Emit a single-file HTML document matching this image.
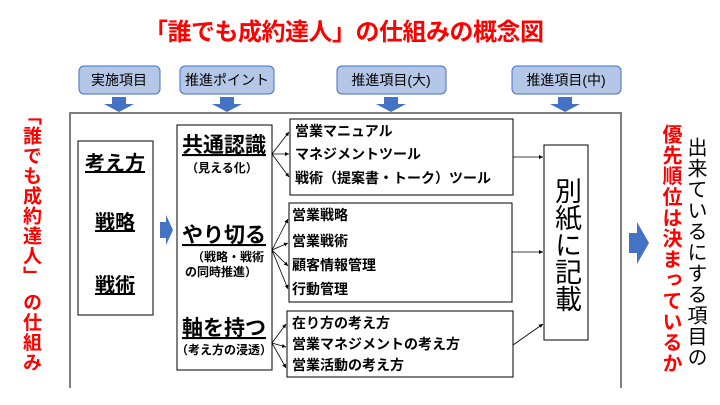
<!DOCTYPE html>
<html><head><meta charset="utf-8"><style>
body{margin:0;background:#fff;}
svg text{font-family:"Liberation Sans","Noto Sans CJK JP",sans-serif;}
.v{writing-mode:vertical-rl;position:absolute;font-family:"Liberation Sans","Noto Sans CJK JP",sans-serif;white-space:nowrap;}
</style></head><body>
<div style="position:relative;width:720px;height:405px;overflow:hidden;">
<svg width="720" height="405" style="position:absolute;left:0;top:0">
<defs><marker id="a" markerWidth="6" markerHeight="6" refX="5" refY="3" orient="auto"><path d="M0,0.5L5,3L0,5.5z" fill="#000"/></marker></defs>
<text x="344" y="40" font-size="24" font-weight="bold" fill="#f00" text-anchor="middle" textLength="400">「誰でも成約達人」の仕組みの概念図</text>
<g fill="#b4c7e7" stroke="#4472c4" stroke-width="1">
<rect x="79" y="66" width="81" height="28" rx="5"/>
<rect x="180" y="66" width="94" height="28" rx="5"/>
<rect x="337" y="66" width="109" height="28" rx="5"/>
<rect x="512" y="66" width="109" height="28" rx="5"/>
</g>
<g font-size="14" text-anchor="middle" fill="#000">
<text x="119" y="85">実施項目</text><text x="227" y="85">推進ポイント</text>
<text x="391" y="85">推進項目(大)</text><text x="566" y="85">推進項目(中)</text>
</g>
<g fill="#4472c4">
<path d="M112,97h14v7h8l-15,8l-15,-8h8z"/>
<path d="M220,97h14v7h8l-15,8l-15,-8h8z"/>
<path d="M384,97h14v7h8l-15,8l-15,-8h8z"/>
<path d="M558,97h14v7h8l-15,8l-15,-8h8z"/>
<path d="M160,222h6v-7l7,15l-7,15v-7h-6z"/>
<path d="M629,233h8v-11l12,21l-12,21v-11h-8z"/>
</g>
<path d="M70,388V113H621V388" fill="none" stroke="#7f7f7f" stroke-width="2"/>
<g fill="#fff" stroke="#000" stroke-width="1">
<rect x="78" y="141" width="75" height="174"/>
<rect x="177" y="125" width="95" height="245"/>
<rect x="290" y="119" width="223" height="76"/>
<rect x="289" y="203" width="223" height="99"/>
<rect x="287" y="311" width="226" height="66"/>
<rect x="544" y="145" width="44" height="195"/>
</g>
<g font-size="20" font-weight="bold" text-anchor="middle" text-decoration="underline">
<text x="115" y="170">考え方</text><text x="115" y="229">戦略</text><text x="115" y="292">戦術</text>
</g>
<g font-size="21" font-weight="bold" text-anchor="middle" text-decoration="underline">
<text x="224" y="152">共通認識</text><text x="224" y="242">やり切る</text><text x="224" y="335">軸を持つ</text>
</g>
<g font-size="12" font-weight="bold" text-anchor="middle">
<text x="222" y="172">（見える化）</text><text x="228" y="261">（戦略・戦術</text><text x="221" y="276">の同時推進）</text><text x="224" y="354">（考え方の浸透）</text>
</g>
<g font-size="14" font-weight="bold">
<text x="295" y="136">営業マニュアル</text><text x="295" y="159">マネジメントツール</text><text x="295" y="183">戦術（提案書・トーク）ツール</text>
<text x="292" y="220">営業戦略</text><text x="292" y="246">営業戦術</text><text x="292" y="270">顧客情報管理</text><text x="292" y="294">行動管理</text>
<text x="292" y="328">在り方の考え方</text><text x="292" y="349">営業マネジメントの考え方</text><text x="292" y="370">営業活動の考え方</text>
</g>
<g stroke="#000" stroke-width="0.8" marker-end="url(#a)">
<line x1="272" y1="154" x2="289" y2="132"/><line x1="272" y1="154" x2="289" y2="154"/><line x1="272" y1="154" x2="289" y2="177"/>
<line x1="272" y1="250" x2="288" y2="219"/><line x1="272" y1="250" x2="288" y2="243"/><line x1="272" y1="250" x2="288" y2="266"/><line x1="272" y1="250" x2="288" y2="289"/>
<line x1="272" y1="343" x2="286" y2="324"/><line x1="272" y1="343" x2="286" y2="347"/><line x1="272" y1="343" x2="286" y2="368"/>
<line x1="513" y1="157" x2="543" y2="157"/><line x1="512" y1="252" x2="543" y2="252"/><line x1="513" y1="345" x2="543" y2="324"/>
</g>
</svg>
<div class="v" style="left:552px;top:177px;font-size:27px;line-height:28px;">別紙に記載</div>
<div class="v" style="left:20px;top:106px;font-size:19px;line-height:21px;color:#f00;font-weight:bold;letter-spacing:1px;">「誰でも成約達人」 の仕組み</div>
<div class="v" style="left:659px;top:124px;font-size:20px;line-height:22px;color:#f00;font-weight:bold;letter-spacing:0.8px;">優先順位は決まっているか</div>
<div class="v" style="left:684px;top:137px;font-size:20px;line-height:22px;color:#000;letter-spacing:1px;">出来ているにする項目の</div>
</div>
</body></html>
